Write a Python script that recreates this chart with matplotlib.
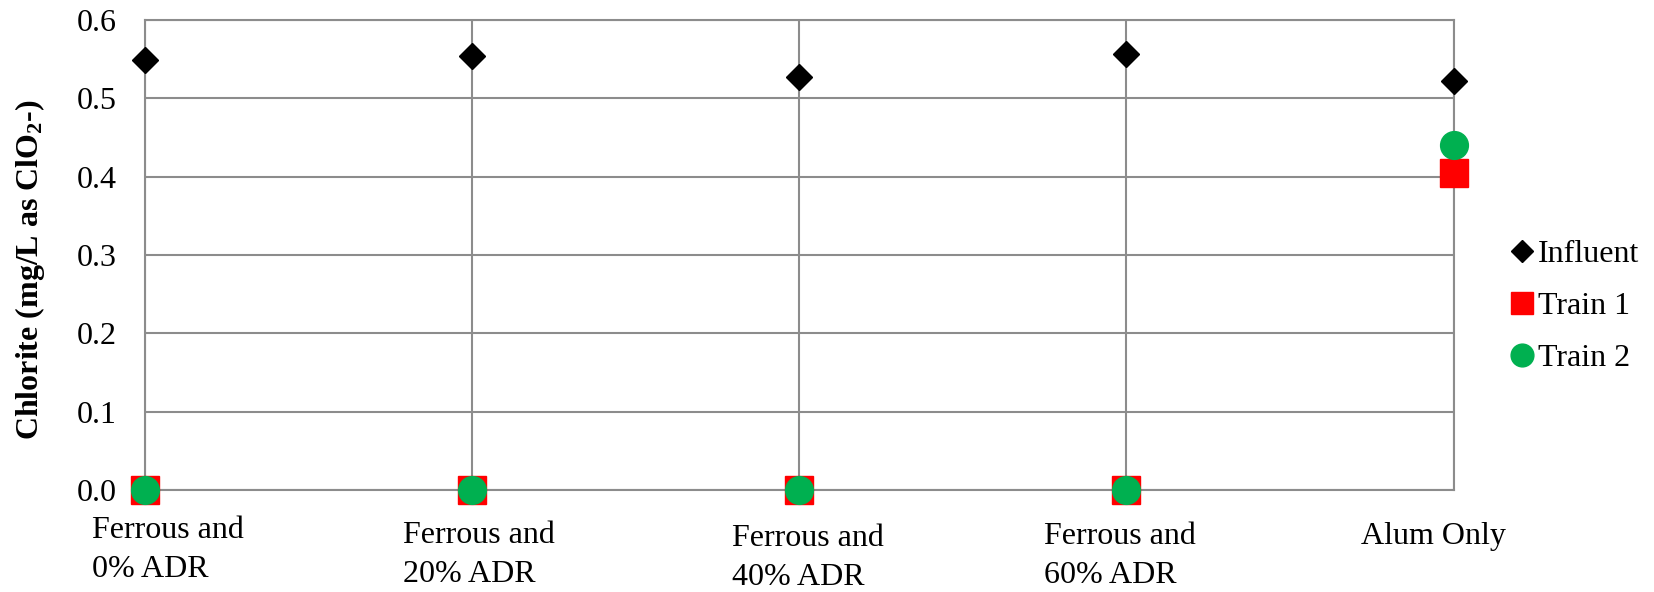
import numpy as np
import matplotlib
matplotlib.use("Agg")
import matplotlib.pyplot as plt
from matplotlib.transforms import ScaledTranslation

# chart data
categories = ["Ferrous and\n0% ADR", "Ferrous and\n20% ADR", "Ferrous and\n40% ADR",
              "Ferrous and\n60% ADR", "Alum Only"]
influent = [0.549, 0.553, 0.527, 0.556, 0.522]
train1 = [0.0, 0.0, 0.0, 0.0, 0.405]
train2 = [0.0, 0.0, 0.0, 0.0, 0.440]
y_ticks = [0.0, 0.1, 0.2, 0.3, 0.4, 0.5, 0.6]

plt.rcParams['font.family'] = ['Liberation Serif', 'DejaVu Serif']
plt.rcParams['mathtext.fontset'] = 'custom'
plt.rcParams['mathtext.rm'] = 'Liberation Serif'
plt.rcParams['mathtext.it'] = 'Liberation Serif:italic'
plt.rcParams['mathtext.bf'] = 'Liberation Serif:bold'

grid_col = '#8c8c8c'
fs = 23

fig = plt.figure(figsize=(16.54, 5.92), dpi=100)
ax = fig.add_axes([0.0874, 0.1715, 0.7914, 0.7955])

x = np.arange(len(categories))

ax.plot(x, influent, linestyle='none', marker='D', markersize=13.5,
        color='black', label='Influent', zorder=3, clip_on=False)
ax.plot(x, train1, linestyle='none', marker='s', markersize=20,
        color='#ff0000', label='Train 1', zorder=4, clip_on=False)
ax.plot(x, train2, linestyle='none', marker='o', markersize=20,
        color='#00b050', label='Train 2', zorder=5, clip_on=False)

ax.set_xlim(0, len(categories) - 1)
ax.set_ylim(0, 0.6)
ax.set_yticks(y_ticks)
ax.set_yticklabels([f'{v:.1f}' for v in y_ticks], fontsize=fs)
ax.set_xticks(x)
ax.set_xticklabels([])

# category labels drawn by hand, excel spreads them a little unevenly
nudges = [(23, 0), (7, -5), (9, -8), (-6, -6), (-20, -6)]
for xi, lab, (dx, dy) in zip(x, categories, nudges):
    tr = ax.get_xaxis_transform() + ScaledTranslation(dx / 100, (dy - 26) / 100,
                                                      fig.dpi_scale_trans)
    ax.text(xi, 0, lab, transform=tr, ha='center', va='top', fontsize=fs,
            multialignment='left', linespacing=1.45)

ax.grid(True, color=grid_col, linewidth=1.5)
ax.set_axisbelow(True)
for s in ax.spines.values():
    s.set_color(grid_col)
    s.set_linewidth(1.5)
ax.tick_params(axis='both', length=0)
ax.tick_params(axis='y', pad=20)

ax.set_ylabel(r'Chlorite (mg/L as ClO$_\mathbf{2}$-)', fontsize=fs,
              fontweight='bold')
ax.yaxis.set_label_coords(-0.0745, 0.47)

leg = ax.legend(loc='center left', bbox_to_anchor=(0.9103, 0.4826),
                bbox_transform=fig.transFigure, frameon=False, fontsize=fs,
                handletextpad=0.0, labelspacing=0.70, markerscale=0.82,
                borderpad=0, borderaxespad=0, handlelength=1.0)

fig.savefig('out.png', dpi=100, facecolor='white')
